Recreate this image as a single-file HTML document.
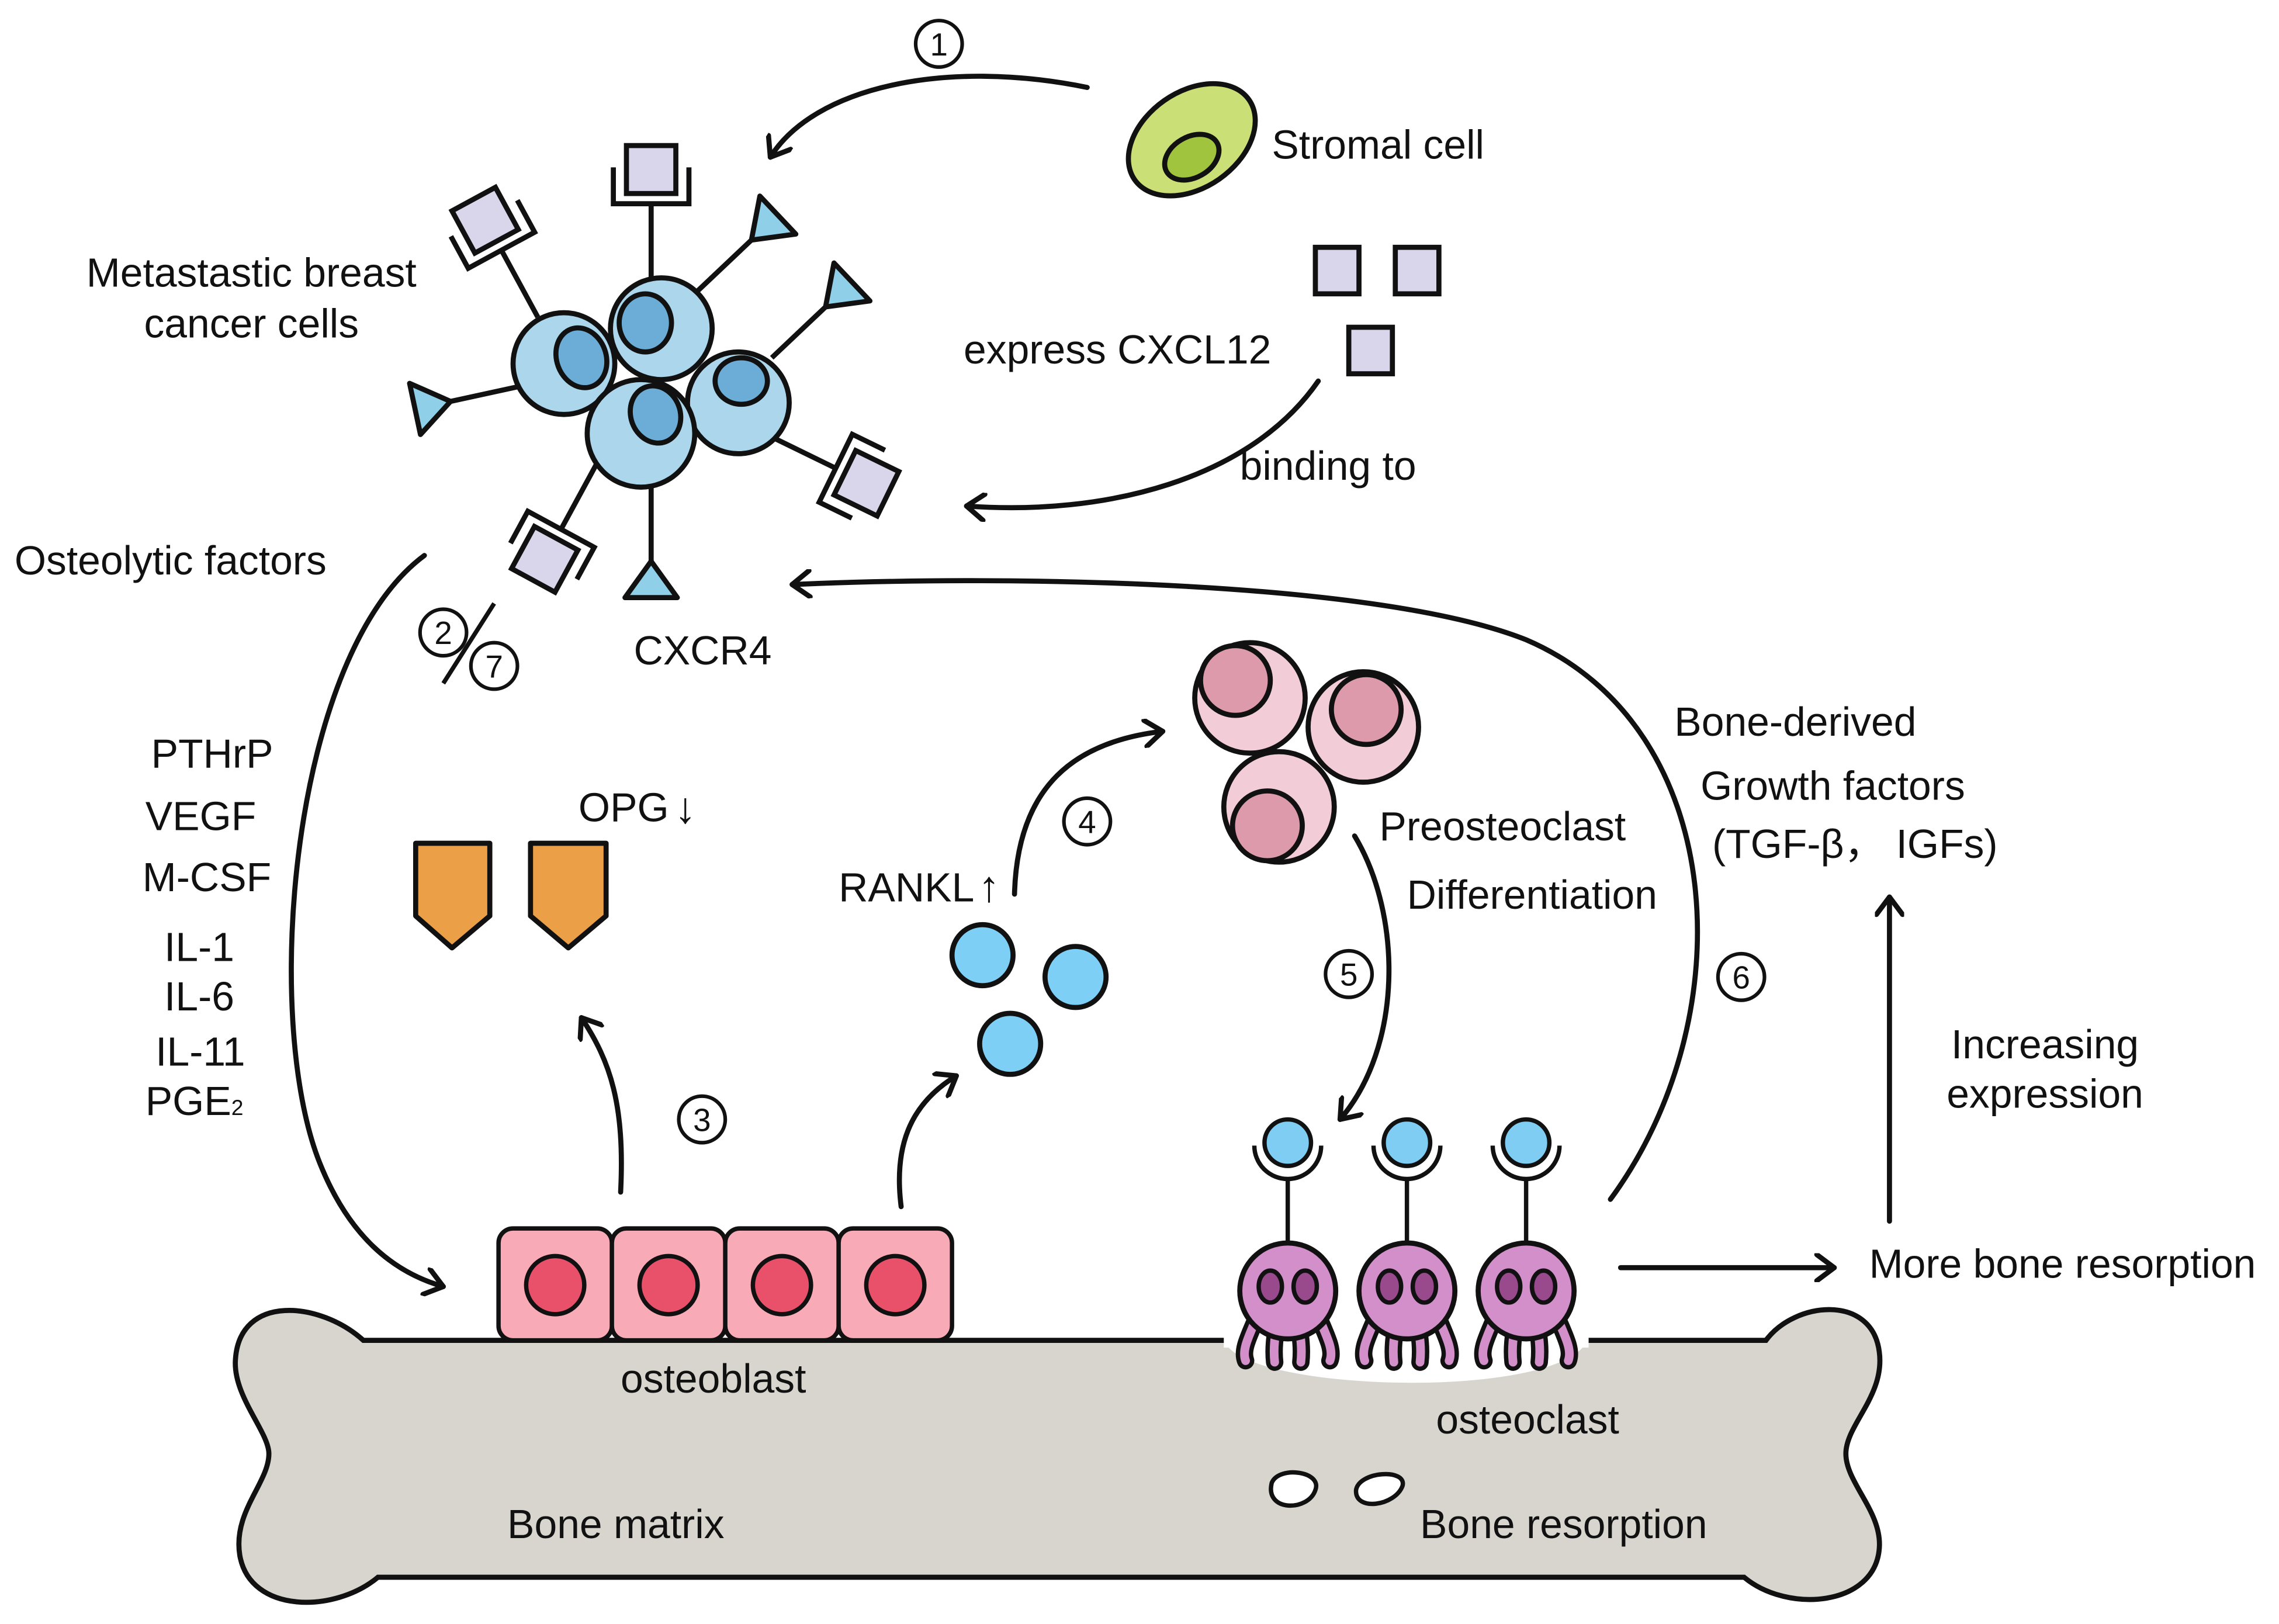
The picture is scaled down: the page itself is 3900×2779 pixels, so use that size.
<!DOCTYPE html>
<html><head><meta charset="utf-8"><style>
html,body{margin:0;padding:0;background:#fff;}
svg{display:block;}
text{font-family:"Liberation Sans",Arial,sans-serif;font-size:28px;fill:#111;}
</style></head><body>
<svg width="3900" height="2779" viewBox="0 0 1568 1117" xmlns="http://www.w3.org/2000/svg">
<defs>
<marker id="ah" markerWidth="20" markerHeight="20" refX="14" refY="10" orient="auto" markerUnits="userSpaceOnUse">
<polyline points="2,1 14,10 2,19" fill="none" stroke="#111" stroke-width="3.5" stroke-linecap="round" stroke-linejoin="round"/>
</marker>
<g id="sq">
<path d="M-26,-25 V0 H26 V-25" fill="none" stroke="#111" stroke-width="3.5"/>
<rect x="-17" y="-40" width="34" height="33" fill="#d9d5ea" stroke="#111" stroke-width="3.5"/>
</g>
<polygon id="tri" points="0,0 -18,-25 18,-25" fill="#8fd0e8" stroke="#111" stroke-width="3.5" stroke-linejoin="round"/>
<g id="oc">
<path d="M-20,15 C-26,30 -32,40 -29,48 M-7,20 C-9,32 -10,40 -9,49 M7,20 C9,32 10,40 9,49 M20,15 C26,30 32,40 29,48" fill="none" stroke="#111" stroke-width="12" stroke-linecap="round"/>
<path d="M-20,15 C-26,30 -32,40 -29,48 M-7,20 C-9,32 -10,40 -9,49 M7,20 C9,32 10,40 9,49 M20,15 C26,30 32,40 29,48" fill="none" stroke="#d28fc9" stroke-width="6" stroke-linecap="round"/>
<circle cx="0" cy="0" r="33" fill="#d28fc9" stroke="#111" stroke-width="3.5"/>
<ellipse cx="-12" cy="-3" rx="8" ry="11" fill="#984a8c" stroke="#111" stroke-width="3"/>
<ellipse cx="12" cy="-3" rx="8" ry="11" fill="#984a8c" stroke="#111" stroke-width="3"/>
<line x1="0" y1="-33" x2="0" y2="-77" stroke="#111" stroke-width="3"/>
<path d="M-23,-100 A23,23 0 0 0 23,-100" fill="none" stroke="#111" stroke-width="3"/>
<circle cx="0" cy="-102" r="16" fill="#80cdf3" stroke="#111" stroke-width="3"/>
</g>
</defs>

<path d="M250,922 C220,895 165,890 162,935 C160,960 185,985 185,1000 C185,1020 160,1040 165,1070 C172,1110 230,1110 260,1085 L1200,1085 C1230,1110 1290,1105 1293,1065 C1295,1040 1270,1020 1270,1000 C1270,980 1297,960 1293,930 C1288,890 1235,895 1215,922 Z" fill="#d8d5cf" stroke="#111" stroke-width="3.5"/>
<path d="M842,920 C845,958 1080,965 1093,920 Z" fill="#fff"/>
<rect x="842" y="915" width="251" height="12" fill="#fff"/>
<path d="M875,1020 C870,1040 900,1040 905,1025 C910,1012 880,1008 875,1020 Z" fill="#fff" stroke="#111" stroke-width="3"/>
<path d="M933,1025 C932,1040 960,1036 965,1022 C968,1010 935,1012 933,1025 Z" fill="#fff" stroke="#111" stroke-width="3"/>

<g stroke="#111" stroke-width="3">
<rect x="343" y="845" width="78" height="77" rx="10" fill="#f8aab6"/>
<rect x="421" y="845" width="78" height="77" rx="10" fill="#f8aab6"/>
<rect x="499" y="845" width="78" height="77" rx="10" fill="#f8aab6"/>
<rect x="577" y="845" width="78" height="77" rx="10" fill="#f8aab6"/>
<circle cx="382" cy="884" r="20" fill="#e9506a"/>
<circle cx="460" cy="884" r="20" fill="#e9506a"/>
<circle cx="538" cy="884" r="20" fill="#e9506a"/>
<circle cx="616" cy="884" r="20" fill="#e9506a"/>
</g>

<use href="#oc" x="886" y="888"/>
<use href="#oc" x="968" y="888"/>
<use href="#oc" x="1050" y="888"/>

<g stroke="#111" stroke-width="3.5">
<line x1="448" y1="194" x2="448" y2="140"/>
<line x1="370" y1="218" x2="345" y2="172"/>
<line x1="356" y1="266" x2="310" y2="276"/>
<line x1="480" y1="200" x2="517" y2="165"/>
<line x1="531" y1="246" x2="568" y2="211"/>
<line x1="532" y1="301" x2="575" y2="322"/>
<line x1="448" y1="331" x2="448" y2="386"/>
<line x1="411" y1="318" x2="386" y2="364"/>
</g>
<use href="#sq" transform="translate(448,140)"/>
<use href="#sq" transform="translate(345,172) rotate(-28.5)"/>
<use href="#sq" transform="translate(575,322) rotate(116)"/>
<use href="#sq" transform="translate(386,364) rotate(-151.5)"/>
<use href="#tri" transform="translate(517,165) rotate(46.6)"/>
<use href="#tri" transform="translate(568,211) rotate(46.6)"/>
<use href="#tri" transform="translate(310,276) rotate(-102)"/>
<use href="#tri" transform="translate(448,386) rotate(180)"/>

<g stroke="#111" stroke-width="3.5">
<circle cx="388" cy="250" r="35" fill="#abd6ec"/>
<ellipse cx="400" cy="246" rx="17" ry="21" fill="#6badd6" transform="rotate(-20 400 246)"/>
<circle cx="455" cy="226" r="35" fill="#abd6ec"/>
<ellipse cx="444" cy="222" rx="18" ry="20" fill="#6badd6"/>
<circle cx="508" cy="277" r="35" fill="#abd6ec"/>
<ellipse cx="510" cy="262" rx="18" ry="16" fill="#6badd6"/>
<circle cx="441" cy="298" r="37" fill="#abd6ec"/>
<ellipse cx="451" cy="285" rx="17" ry="20" fill="#6badd6" transform="rotate(-20 451 285)"/>
</g>

<ellipse cx="820" cy="96" rx="48" ry="33" transform="rotate(-35 820 96)" fill="#cadf75" stroke="#111" stroke-width="3.5"/>
<ellipse cx="820" cy="108" rx="20" ry="14" transform="rotate(-30 820 108)" fill="#a0c43d" stroke="#111" stroke-width="3.5"/>

<g fill="#d9d5ea" stroke="#111" stroke-width="3.5">
<rect x="905" y="170" width="30" height="32"/>
<rect x="960" y="170" width="30" height="32"/>
<rect x="928" y="225" width="30" height="32"/>
</g>

<g stroke="#111" stroke-width="3.5">
<circle cx="860" cy="480" r="38" fill="#f2cdd8"/>
<circle cx="850" cy="468" r="24" fill="#dd9aab"/>
<circle cx="938" cy="500" r="38" fill="#f2cdd8"/>
<circle cx="940" cy="488" r="24" fill="#dd9aab"/>
<circle cx="880" cy="555" r="38" fill="#f2cdd8"/>
<circle cx="872" cy="568" r="24" fill="#dd9aab"/>
</g>

<g fill="#7dcff5" stroke="#111" stroke-width="3.5">
<circle cx="676" cy="657" r="21"/>
<circle cx="740" cy="672" r="21"/>
<circle cx="695" cy="718" r="21"/>
</g>

<g fill="#eba048" stroke="#111" stroke-width="3.5" stroke-linejoin="round">
<polygon points="286,580 337,580 337,630 311,652 286,630"/>
<polygon points="365,580 417,580 417,630 391,652 365,630"/>
</g>

<g fill="none" stroke="#111" stroke-width="3.5" stroke-linecap="round" marker-end="url(#ah)">
<path d="M748,60 C650,40 560,60 530,108"/>
<path d="M907,262 C860,330 760,355 665,348"/>
<path d="M1108,825 C1200,700 1190,500 1050,440 C950,400 700,395 545,402"/>
<path d="M292,382 C200,450 180,700 220,800 C240,850 270,875 305,885"/>
<path d="M427,820 C430,760 420,730 400,700"/>
<path d="M620,830 C615,790 625,760 658,740"/>
<path d="M698,615 C700,540 740,510 800,503"/>
<path d="M932,575 C965,630 965,720 922,770"/>
<path d="M1115,872 H1262"/>
<path d="M1300,840 V617"/>
</g>
<line x1="340" y1="415" x2="305" y2="470" stroke="#111" stroke-width="3"/>

<g fill="#fff" stroke="#111" stroke-width="2.5">
<circle cx="646" cy="30" r="16"/>
<circle cx="305" cy="435" r="16"/>
<circle cx="340" cy="458" r="16"/>
<circle cx="748" cy="565" r="16"/>
<circle cx="483" cy="770" r="16"/>
<circle cx="928" cy="670" r="16"/>
<circle cx="1198" cy="672" r="16"/>
</g>
<g text-anchor="middle">
<text x="646" y="38" style="font-size:22px">1</text>
<text x="305" y="443" style="font-size:22px">2</text>
<text x="340" y="466" style="font-size:22px">7</text>
<text x="748" y="573" style="font-size:22px">4</text>
<text x="483" y="778" style="font-size:22px">3</text>
<text x="928" y="678" style="font-size:22px">5</text>
<text x="1198" y="680" style="font-size:22px">6</text>
</g>

<text x="875" y="109">Stromal cell</text>
<text x="173" y="197" text-anchor="middle">Metastastic breast</text>
<text x="173" y="232" text-anchor="middle">cancer cells</text>
<text x="663" y="250">express CXCL12</text>
<text x="853" y="330">binding to</text>
<text x="10" y="395">Osteolytic factors</text>
<text x="436" y="457">CXCR4</text>
<text x="104" y="528">PTHrP</text>
<text x="100" y="571">VEGF</text>
<text x="98" y="613">M-CSF</text>
<text x="113" y="661">IL-1</text>
<text x="113" y="695">IL-6</text>
<text x="107" y="733">IL-11</text>
<text x="100" y="767">PGE<tspan style="font-size:15px">2</tspan></text>
<text x="398" y="565">OPG</text>
<text x="464" y="566" style="font-size:30px;font-weight:bold">↓</text>
<text x="577" y="620">RANKL</text>
<text x="673" y="620" style="font-size:30px;font-weight:bold">↑</text>
<text x="949" y="578">Preosteoclast</text>
<text x="968" y="625">Differentiation</text>
<text x="1152" y="506">Bone-derived</text>
<text x="1170" y="550">Growth factors</text>
<text x="1178" y="590">(TGF-β， IGFs)</text>
<text x="1407" y="728" text-anchor="middle">Increasing</text>
<text x="1407" y="762" text-anchor="middle">expression</text>
<text x="1286" y="879">More bone resorption</text>
<text x="427" y="958">osteoblast</text>
<text x="988" y="986">osteoclast</text>
<text x="349" y="1058">Bone matrix</text>
<text x="977" y="1058">Bone resorption</text>
</svg>
</body></html>
